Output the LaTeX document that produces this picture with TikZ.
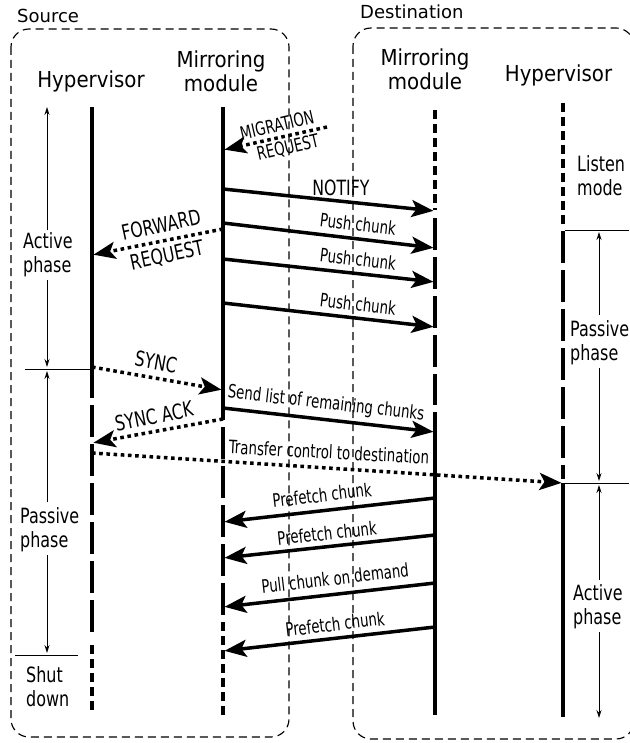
\documentclass[tikz,border=0pt]{standalone}
\usepackage{fontspec}
\setmainfont{DejaVu Sans}
\newfontfamily\hfont{DejaVu Sans}[FakeStretch=0.9]
\newfontfamily\pfont{DejaVu Sans}[FakeStretch=0.76]
\newfontfamily\cond{DejaVu Sans}[FakeStretch=0.72]
\newfontfamily\bcond{DejaVu Sans}[FakeStretch=0.75]
\usetikzlibrary{arrows.meta}
\tikzset{
  lifeline/.style={line width=4.5pt},
  longdash/.style={lifeline, dash pattern=on 32pt off 7pt},
  shortdash/.style={lifeline, dash pattern=on 9pt off 5pt},
  msg/.style={line width=3.5pt, shorten >=1.5pt, -{Stealth[length=22pt,width=17pt,inset=5pt]}},
  dmsg/.style={msg, dash pattern=on 3.6pt off 3.6pt},
  phasearrow/.style={line width=0.8pt, -{Stealth[length=8pt,width=5pt]}},
  phasetick/.style={line width=0.9pt},
  lbl/.style={font=\cond\fontsize{18.5}{20}\selectfont, inner sep=0pt},
  biglbl/.style={font=\bcond\fontsize{21}{22}\selectfont, inner sep=0pt},
  phaselbl/.style={font=\pfont\fontsize{21}{24}\selectfont, align=left, inner sep=0pt, anchor=west},
  headlbl/.style={font=\hfont\fontsize{22}{24}\selectfont, align=center, inner sep=0pt},
  hyplbl/.style={font=\hfont\fontsize{22}{24}\selectfont, inner sep=0pt, anchor=base},
  grplbl/.style={font=\fontsize{18}{20}\selectfont, inner sep=0pt, anchor=base west},
  grp/.style={draw, line width=1.15pt, dash pattern=on 8pt off 5pt, rounded corners=18pt}
}
\begin{document}
\begin{tikzpicture}[x=1pt,y=-1pt]
\useasboundingbox (0,0) rectangle (629,743);

% group boxes
\draw[grp] (11,29) rectangle (289,737);
\draw[grp] (353,28) rectangle (634,739);
\node[grplbl] (srcl) at (17,22.7) {Source};
\node[grplbl] (dstl) at (360,18.3) {Destination};

% headings
\node[hyplbl] (shyp) at (91,88) {Hypervisor};
\node[headlbl] (smir) at (221,71.6) {Mirroring\\module};
\node[headlbl] (dmir) at (425,69.2) {Mirroring\\module};
\node[hyplbl] (dhyp) at (558.5,82) {Hypervisor};

% lifeline coordinates
\coordinate (sh1) at (92,107);  \coordinate (sh2) at (92,398);
\coordinate (sh3) at (92,405);  \coordinate (sh4) at (92,632);
\coordinate (sh5) at (92,645);  \coordinate (sh6) at (92,712);
\coordinate (sm1) at (223,107); \coordinate (sm2) at (223,420);
\coordinate (sm3) at (223,427); \coordinate (sm4) at (223,615);
\coordinate (sm5) at (223,622); \coordinate (sm6) at (223,717);
\coordinate (dm1) at (435,110); \coordinate (dm2) at (435,210);
\coordinate (dm3) at (435,218); \coordinate (dm4) at (435,405);
\coordinate (dm5) at (435,412); \coordinate (dm6) at (435,715);
\coordinate (dh1) at (563,103); \coordinate (dh2) at (563,226);
\coordinate (dh3) at (563,231); \coordinate (dh4) at (563,479);
\coordinate (dh5) at (563,483); \coordinate (dh6) at (563,717);

% lifelines
\draw[lifeline] (sh1) -- (sh2);
\draw[longdash] (sh3) -- (sh4);
\draw[shortdash] (sh5) -- (sh6);
\draw[lifeline] (sm1) -- (sm2);
\draw[longdash] (sm3) -- (sm4);
\draw[shortdash] (sm5) -- (sm6);
\draw[shortdash] (dm1) -- (dm2);
\draw[longdash] (dm3) -- (dm4);
\draw[lifeline] (dm5) -- (dm6);
\draw[shortdash] (dh1) -- (dh2);
\draw[longdash] (dh3) -- (dh4);
\draw[lifeline] (dh5) -- (dh6);

% message end points
\coordinate (migS) at (327,127);  \coordinate (migE) at (223,150);
\coordinate (notS) at (223,189);  \coordinate (notE) at (435,211);
\coordinate (p1S) at (223,223);   \coordinate (p1E) at (435,248);
\coordinate (fwS) at (223,229);   \coordinate (fwE) at (92,255);
\coordinate (p2S) at (223,259);   \coordinate (p2E) at (435,282);
\coordinate (p3S) at (223,303);   \coordinate (p3E) at (435,327);
\coordinate (syS) at (92,367);    \coordinate (syE) at (223,390);
\coordinate (slS) at (223,408);   \coordinate (slE) at (435,432);
\coordinate (saS) at (223,419);   \coordinate (saE) at (92,443);
\coordinate (trS) at (92,453);    \coordinate (trE) at (563,483);
\coordinate (f1S) at (435,498);   \coordinate (f1E) at (223,522);
\coordinate (f2S) at (435,535);   \coordinate (f2E) at (223,558);
\coordinate (puS) at (435,583);   \coordinate (puE) at (223,607);
\coordinate (f3S) at (435,627);   \coordinate (f3E) at (223,651);

% messages
\draw[dmsg] (migS) -- (migE);
\draw[msg] (notS) -- (notE);
\draw[msg] (p1S) -- (p1E);
\draw[dmsg] (fwS) -- (fwE);
\draw[msg] (p2S) -- (p2E);
\draw[msg] (p3S) -- (p3E);
\draw[dmsg] (syS) -- (syE);
\draw[msg] (slS) -- (slE);
\draw[dmsg] (saS) -- (saE);
\draw[dmsg] (trS) -- (trE);
\draw[msg] (f1S) -- (f1E);
\draw[msg] (f2S) -- (f2E);
\draw[msg] (puS) -- (puE);
\draw[msg] (f3S) -- (f3E);

% message labels
\node[lbl, rotate=13] (migA) at (277,125) {MIGRATION};
\node[lbl, rotate=13] (migB) at (288,148) {REQUEST};
\node[biglbl] (notl) at (341,188) {NOTIFY};
\node[lbl, rotate=-6.7] (p1l) at (358,224) {Push chunk};
\node[lbl, rotate=-6.5] (p2l) at (358,259) {Push chunk};
\node[lbl, rotate=-6.5] (p3l) at (358,304) {Push chunk};
\node[biglbl, rotate=12] (fwA) at (161,225) {FORWARD};
\node[biglbl, rotate=12] (fwB) at (167,256) {REQUEST};
\node[biglbl, rotate=-10] (syl) at (156,362) {SYNC};
\node[lbl, rotate=-6.5] (sll) at (326,404) {Send list of remaining chunks};
\node[biglbl, rotate=11] (sal) at (154,416) {SYNC ACK};
\node[lbl, rotate=-3] (trl) at (329,452) {Transfer control to destination};
\node[lbl, rotate=6.6] (f1l) at (322,495) {Prefetch chunk};
\node[lbl, rotate=6.3] (f2l) at (327,533) {Prefetch chunk};
\node[lbl, rotate=6.6] (pul) at (335,578) {Pull chunk on demand};
\node[lbl, rotate=6.6] (f3l) at (335,624) {Prefetch chunk};

% source phases
\node[phaselbl] (sact) at (23,254.5) {Active\\phase};
\node[phaselbl] (spas) at (20,530) {Passive\\phase};
\node[phaselbl] (sshut) at (26,687) {Shut\\down};
\coordinate (sa1) at (47,230); \coordinate (sa2) at (47,107);
\coordinate (sa3) at (47,280); \coordinate (sa4) at (47,367);
\coordinate (sp1) at (47,502); \coordinate (sp2) at (47,371);
\coordinate (sp3) at (47,555); \coordinate (sp4) at (47,653);
\coordinate (st1) at (25,369); \coordinate (st2) at (90,369);
\coordinate (st3) at (15,655); \coordinate (st4) at (78,655);
\draw[phasearrow] (sa1) -- (sa2);
\draw[phasearrow] (sa3) -- (sa4);
\draw[phasearrow] (sp1) -- (sp2);
\draw[phasearrow] (sp3) -- (sp4);
\draw[phasetick] (st1) -- (st2);
\draw[phasetick] (st3) -- (st4);

% destination phases
\node[phaselbl] (dlis) at (577,176) {Listen\\mode};
\node[phaselbl] (dpas) at (570,343) {Passive\\phase};
\node[phaselbl] (dact) at (573,607) {Active\\phase};
\coordinate (dt1) at (565,230); \coordinate (dt2) at (629,230);
\coordinate (dt3) at (565,483); \coordinate (dt4) at (629,483);
\coordinate (dp1) at (599,315); \coordinate (dp2) at (599,232);
\coordinate (dp3) at (599,368); \coordinate (dp4) at (599,481);
\coordinate (da1) at (599,580); \coordinate (da2) at (599,485);
\coordinate (da3) at (599,632); \coordinate (da4) at (599,718);
\draw[phasetick] (dt1) -- (dt2);
\draw[phasetick] (dt3) -- (dt4);
\draw[phasearrow] (dp1) -- (dp2);
\draw[phasearrow] (dp3) -- (dp4);
\draw[phasearrow] (da1) -- (da2);
\draw[phasearrow] (da3) -- (da4);
\end{tikzpicture}
\end{document}
